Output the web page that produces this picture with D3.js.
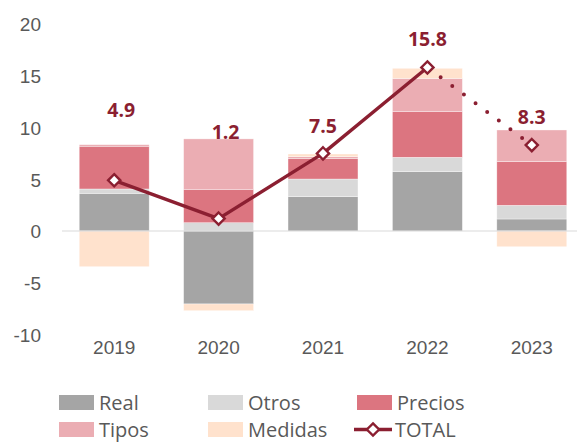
<!DOCTYPE html>
<html>
<head>
<meta charset="utf-8">
<script src="https://cdn.jsdelivr.net/npm/d3@7"></script>
<style>
  html, body { margin: 0; padding: 0; background: #fff; }
  svg { display: block; font-family: "Open Sans", "Liberation Sans", sans-serif; }
</style>
</head>
<body>
<svg id="chart" width="577" height="442"></svg>
<script>
// Contributions by component, per year (percentage points)
const years   = ["2019", "2020", "2021", "2022", "2023"];
const real    = [3.64, -7.05, 3.32, 5.73, 1.16];
const otros   = [0.42, 0.80, 1.70, 1.39, 1.32];
const precios = [4.13, 3.23, 2.00, 4.44, 4.22];
const tipos   = [0.15, 4.87, 0.16, 3.19, 3.06];
const medidas = [-3.45, -0.65, 0.26, 0.97, -1.52];
const total   = [4.9, 1.2, 7.5, 15.8, 8.3];
const yTicks  = [-10, -5, 0, 5, 10, 15, 20];

const seriesNames = ["Real", "Otros", "Precios", "Tipos", "Medidas"];
const seriesValues = [real, otros, precios, tipos, medidas];
const colors = {
  Real: "#a5a5a5",
  Otros: "#d9d9d9",
  Precios: "#dc7580",
  Tipos: "#ebadb3",
  Medidas: "#ffe2cd"
};
const lineColor = "#8b1f31";
const textColor = "#595959";

const rows = years.map((yr, i) => {
  const r = { year: yr };
  seriesNames.forEach((s, k) => r[s] = seriesValues[k][i]);
  return r;
});

const svg = d3.select("#chart");

const x = d3.scaleBand().domain(years).range([62, 584])
  .paddingInner(0.33).paddingOuter(0.165);
const y = d3.scaleLinear().domain([-10, 20]).range([334.5, 24]);

// y axis labels only (plain hyphen for negatives)
const yAxis = svg.append("g")
  .attr("transform", "translate(41,0)")
  .call(d3.axisLeft(y).tickValues(yTicks).tickSize(0).tickPadding(0)
    .tickFormat(d => String(d)));
yAxis.select(".domain").remove();
yAxis.selectAll("text")
  .attr("fill", textColor).style("font-size", "19px")
  .attr("dy", "0.36em");

// x axis labels
const xAxis = svg.append("g")
  .attr("transform", "translate(0,354)")
  .call(d3.axisBottom(x).tickSize(0).tickPadding(0));
xAxis.select(".domain").remove();
xAxis.selectAll("text")
  .attr("fill", textColor).style("font-size", "19px")
  .attr("dy", "0");

// stacked bars
const stack = d3.stack().keys(seriesNames).offset(d3.stackOffsetDiverging);
const layers = stack(rows);

svg.append("g").selectAll("g")
  .data(layers).join("g")
  .attr("fill", d => colors[d.key])
  .selectAll("rect")
  .data(d => d).join("rect")
  .attr("x", d => x(d.data.year))
  .attr("width", x.bandwidth())
  .attr("y", d => y(Math.max(d[0], d[1])))
  .attr("height", d => Math.abs(y(d[0]) - y(d[1])))
  .attr("stroke", "#ffffff")
  .attr("stroke-opacity", 0.6)
  .attr("stroke-width", 0.6);

// zero line
svg.append("line")
  .attr("x1", 62).attr("x2", 577)
  .attr("y1", y(0)).attr("y2", y(0))
  .attr("stroke", "#d9d9d9").attr("stroke-width", 1.2);

// total line: solid through 2022, dotted for 2023
const pts = years.map((yr, i) => [x(yr) + x.bandwidth() / 2, y(total[i])]);
const line = d3.line();
svg.append("path")
  .attr("d", line(pts.slice(0, 4)))
  .attr("fill", "none").attr("stroke", lineColor)
  .attr("stroke-width", 3.4).attr("stroke-linejoin", "round");
svg.append("path")
  .attr("d", line(pts.slice(3)))
  .attr("fill", "none").attr("stroke", lineColor)
  .attr("stroke-width", 4).attr("stroke-linecap", "round")
  .attr("stroke-dasharray", "0 14.5")
  .attr("stroke-dashoffset", -2);

const diamond = d3.symbol().type(d3.symbolDiamond2).size(95);
svg.append("g").selectAll("path")
  .data(pts).join("path")
  .attr("transform", d => `translate(${d[0]},${d[1]})`)
  .attr("d", diamond)
  .attr("fill", "#fff").attr("stroke", lineColor).attr("stroke-width", 2.4);

// value labels, lifted above their markers
const labelNudge = [[7, -63], [7, -80], [0, -20], [0, -21], [0, -21]];
svg.append("g").selectAll("text")
  .data(total).join("text")
  .attr("x", (d, i) => pts[i][0] + labelNudge[i][0])
  .attr("y", (d, i) => pts[i][1] + labelNudge[i][1])
  .attr("text-anchor", "middle")
  .attr("fill", lineColor)
  .style("font-size", "19.5px").style("font-weight", "700")
  .text(d => d.toFixed(1));

// legend
const legendItems = [
  { name: "Real", col: 0, row: 0 },
  { name: "Otros", col: 1, row: 0 },
  { name: "Precios", col: 2, row: 0 },
  { name: "Tipos", col: 0, row: 1 },
  { name: "Medidas", col: 1, row: 1 },
  { name: "TOTAL", col: 2, row: 1 }
];
const legend = svg.append("g");
const lg = legend.selectAll("g").data(legendItems).join("g")
  .attr("transform", d => `translate(${59 + d.col * 149},${395 + d.row * 27})`);
lg.filter(d => d.name !== "TOTAL").append("rect")
  .attr("width", 35).attr("height", 15)
  .attr("fill", d => colors[d.name]);
const tot = lg.filter(d => d.name === "TOTAL");
tot.append("line")
  .attr("x1", -3).attr("x2", 35).attr("y1", 7.5).attr("y2", 7.5)
  .attr("stroke", lineColor).attr("stroke-width", 3.4);
tot.append("path")
  .attr("transform", "translate(16,7.5)")
  .attr("d", diamond)
  .attr("fill", "#fff").attr("stroke", lineColor).attr("stroke-width", 2.4);
lg.append("text")
  .attr("x", d => d.name === "TOTAL" ? 38 : 40)
  .attr("y", 15)
  .attr("fill", textColor)
  .style("font-size", "20px")
  .text(d => d.name);
</script>
</body>
</html>
